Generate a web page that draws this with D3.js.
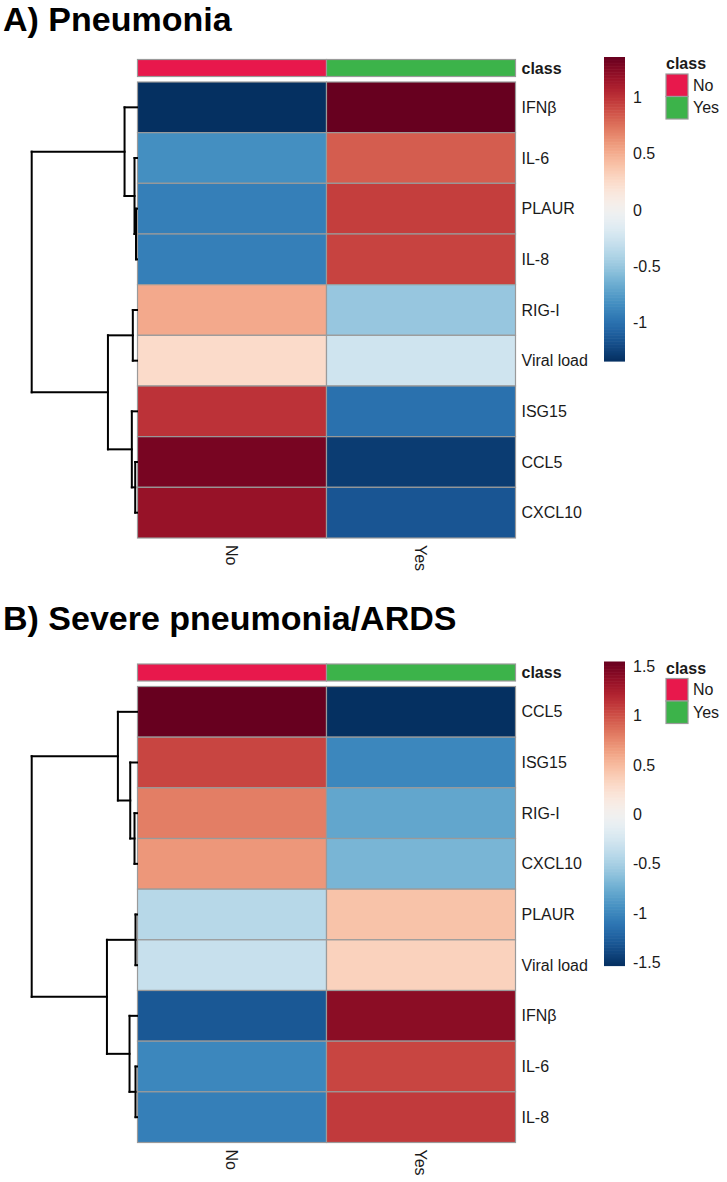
<!DOCTYPE html>
<html>
<head>
<meta charset="utf-8">
<script src="https://cdn.jsdelivr.net/npm/d3@7"></script>
<style>
  html, body { margin: 0; padding: 0; background: #fff; }
  svg { display: block; }
  text { font-family: "Liberation Sans", Arial, sans-serif; fill: #1a1a1a; }
</style>
</head>
<body>
<svg id="chart" width="727" height="1182"></svg>
<script>
// ---------- data ----------
const classes = ["No", "Yes"];
const classColors = ["#E8184C", "#3CB34A"];

const titleA = "A) Pneumonia";
const rowsA = ["IFNβ", "IL-6", "PLAUR", "IL-8", "RIG-I", "Viral load", "ISG15", "CCL5", "CXCL10"];
const noA  = [-1.34, -0.83, -0.92, -0.92, 0.52, 0.25, 1.00, 1.30, 1.18];
const yesA = [ 1.36,  0.83,  0.95,  0.93, -0.50, -0.25, -1.00, -1.28, -1.15];
const ticksA = [-1, -0.5, 0, 0.5, 1];
const treeA = {h: 10.58, c: [
  {h: 1.25, c: [{l: "IFNβ"}, {h: 0.25, c: [{l: "IL-6"}, {h: 0.1, c: [{l: "PLAUR"}, {l: "IL-8"}]}]}]},
  {h: 2.92, c: [{h: 0.42, c: [{l: "RIG-I"}, {l: "Viral load"}]},
                {h: 0.52, c: [{l: "ISG15"}, {h: 0.18, c: [{l: "CCL5"}, {l: "CXCL10"}]}]}]}
]};

const titleB = "B) Severe pneumonia/ARDS";
const rowsB = ["CCL5", "ISG15", "RIG-I", "CXCL10", "PLAUR", "Viral load", "IFNβ", "IL-6", "IL-8"];
const noB  = [ 1.55,  1.05,  0.80,  0.68, -0.42, -0.33, -1.30, -1.00, -1.05];
const yesB = [-1.53, -1.00, -0.80, -0.70,  0.45,  0.35,  1.40,  1.05,  1.10];
const ticksB = [-1.5, -1, -0.5, 0, 0.5, 1, 1.5];
const treeB = {h: 10.58, c: [
  {h: 1.92, c: [{l: "CCL5"}, {h: 0.68, c: [{l: "ISG15"}, {h: 0.25, c: [{l: "RIG-I"}, {l: "CXCL10"}]}]}]},
  {h: 3.02, c: [{h: 0.15, c: [{l: "PLAUR"}, {l: "Viral load"}]},
                {h: 0.75, c: [{l: "IFNβ"}, {h: 0.15, c: [{l: "IL-6"}, {l: "IL-8"}]}]}]}
]};

// ---------- drawing ----------
const svg = d3.select("#chart");
const FONT = 16;

function panel(title, titleY, heatTop, rows, noVals, yesVals, ticks, tree) {
  const g = svg.append("g");
  g.append("text").attr("x", 3).attr("y", titleY)
    .style("font-size", "34px").style("font-weight", "bold").style("fill", "#000")
    .text(title);

  const heatLeft = 137.5, heatRight = 515.5, heatH = 456;
  const x = d3.scaleBand().domain(classes).range([heatLeft, heatRight]);
  const y = d3.scaleBand().domain(rows).range([heatTop, heatTop + heatH]);

  const vals = [];
  rows.forEach((r, i) => { vals.push({row: r, cls: "No", v: noVals[i]}); vals.push({row: r, cls: "Yes", v: yesVals[i]}); });
  const ext = d3.extent(vals, d => d.v);
  const color = d3.scaleSequential(t => d3.interpolateRdBu(1 - t)).domain(ext);

  // annotation bar
  const annTop = heatTop - 22.5, annH = 17;
  g.selectAll(".ann").data(classes).join("rect")
    .attr("x", d => x(d)).attr("y", annTop)
    .attr("width", x.bandwidth()).attr("height", annH)
    .attr("fill", (d, i) => classColors[i])
    .attr("stroke", "#9a9a9a").attr("stroke-width", 1.2);
  g.append("text").attr("x", heatRight + 6).attr("y", annTop + annH / 2).attr("dy", "0.35em")
    .style("font-size", FONT + "px").style("font-weight", "bold").text("class");

  // cells
  g.selectAll(".cell").data(vals).join("rect")
    .attr("x", d => x(d.cls)).attr("y", d => y(d.row))
    .attr("width", x.bandwidth()).attr("height", y.bandwidth())
    .attr("fill", d => color(d.v))
    .attr("stroke", "#9a9a9a").attr("stroke-width", 1.2);

  // row labels
  g.selectAll(".rl").data(rows).join("text")
    .attr("x", heatRight + 6).attr("y", d => y(d) + y.bandwidth() / 2).attr("dy", "0.35em")
    .style("font-size", FONT + "px").text(d => d);

  // column labels (rotated)
  g.selectAll(".cl").data(classes).join("text")
    .attr("transform", d => `translate(${x(d) + x.bandwidth() / 2},${heatTop + heatH + 7}) rotate(90)`)
    .attr("dy", "0.35em")
    .style("font-size", FONT + "px").text(d => d);

  // dendrogram
  const root = d3.hierarchy(tree, d => d.c);
  const hx = d3.scaleLinear().domain([0, tree.h]).range([137, 31.7]);
  root.eachAfter(n => {
    if (!n.children) { n.px = hx(0); n.py = y(n.data.l) + y.bandwidth() / 2; }
    else {
      n.px = hx(n.data.h);
      n.py = (n.children[0].py + n.children[n.children.length - 1].py) / 2;
    }
  });
  const segs = [];
  root.each(n => {
    if (n.children) {
      const ys = n.children.map(c => c.py);
      segs.push([n.px, d3.min(ys), n.px, d3.max(ys)]);
      n.children.forEach(c => segs.push([n.px, c.py, c.px, c.py]));
    }
  });
  g.selectAll(".seg").data(segs).join("line")
    .attr("x1", d => d[0]).attr("y1", d => d[1]).attr("x2", d => d[2]).attr("y2", d => d[3])
    .attr("stroke", "#000").attr("stroke-width", 2).attr("stroke-linecap", "square");

  // colour legend bar
  const barTop = heatTop - 25, barBot = heatTop + 279, barX = 604, barW = 21;
  const ly = d3.scaleLinear().domain(ext).range([barBot, barTop]);
  const steps = d3.range(0, 200);
  g.selectAll(".lb").data(steps).join("rect")
    .attr("x", barX).attr("width", barW)
    .attr("y", i => barTop + (barBot - barTop) * i / 200)
    .attr("height", (barBot - barTop) / 200 + 0.6)
    .attr("fill", i => color(ly.invert(barTop + (barBot - barTop) * (i + 0.5) / 200)));
  g.selectAll(".lt").data(ticks).join("text")
    .attr("x", barX + barW + 8).attr("y", d => ly(d)).attr("dy", "0.35em")
    .style("font-size", FONT + "px").text(d => String(d));

  // class legend
  const lgX = 666, lgTop = heatTop - 8, box = 22.5;
  g.append("text").attr("x", lgX).attr("y", heatTop - 13)
    .style("font-size", FONT + "px").style("font-weight", "bold").text("class");
  g.selectAll(".lgb").data(classes).join("rect")
    .attr("x", lgX).attr("y", (d, i) => lgTop + i * box).attr("width", 22).attr("height", box)
    .attr("fill", (d, i) => classColors[i]).attr("stroke", "#9a9a9a").attr("stroke-width", 1.2);
  g.selectAll(".lgt").data(classes).join("text")
    .attr("x", lgX + 27).attr("y", (d, i) => lgTop + i * box + box / 2).attr("dy", "0.35em")
    .style("font-size", FONT + "px").text(d => d);
}

panel(titleA, 31, 82, rowsA, noA, yesA, ticksA, treeA);
panel(titleB, 629.5, 686.5, rowsB, noB, yesB, ticksB, treeB);
</script>
</body>
</html>
